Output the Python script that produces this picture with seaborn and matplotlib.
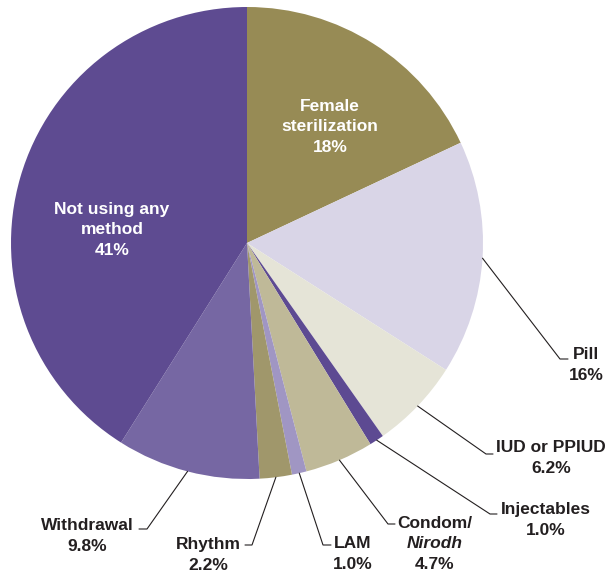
import numpy as np
import matplotlib.pyplot as plt
import seaborn as sns

# contraceptive method mix, clockwise from 12 o'clock
methods = ["Female sterilization", "Pill", "IUD or PPIUD", "Injectables",
           "Condom/Nirodh", "LAM", "Rhythm", "Withdrawal", "Not using any method"]
shares = [18, 16, 6.2, 1.0, 4.7, 1.0, 2.2, 9.8, 41]
colors = ["#978b55", "#d9d5e7", "#e5e4d7", "#5d4a92", "#bfb998",
          "#a096c3", "#a0976b", "#7667a3", "#5e4b91"]
label_lines = [["Female", "sterilization"], ["Pill"], ["IUD or PPIUD"], ["Injectables"],
               ["Condom/", "Nirodh"], ["LAM"], ["Rhythm"], ["Withdrawal"],
               ["Not using any", "method"]]
italic_lines = {"Nirodh"}

sns.set_theme(style="white")
plt.rcParams['font.family'] = ['Liberation Sans', 'DejaVu Sans']

W, H = 607, 576
cx, cy, R = 247, 243, 236   # pie centre / radius in pixels
FS = 12.5
LINE = 20.5                 # line spacing, px
INK = "#231f20"

fig = plt.figure(figsize=(W / 100, H / 100), dpi=100)
ax = fig.add_axes([0, 0, 1, 1])
wedges, _ = ax.pie(shares, colors=colors, startangle=90, counterclock=False,
                   radius=1, wedgeprops=dict(linewidth=0))
ax.set_xlim(-cx / R, (W - cx) / R)
ax.set_ylim(-(H - cy) / R, cy / R)
ax.axis('off')


def px(x, y):
    return (x - cx) / R, (cy - y) / R


def pct(v):
    return f"{v:.0f}%" if v >= 10 else f"{v:.1f}%"


def block(lines, x, y, color):
    n = len(lines)
    for i, s in enumerate(lines):
        tx, ty = px(x, y + (i - (n - 1) / 2) * LINE)
        ax.text(tx, ty, s, ha='center', va='center', fontsize=FS, color=color,
                fontweight='bold', fontstyle='italic' if s in italic_lines else 'normal')


# label placement (pixels): inside labels -> centre; outside -> kink, end, text centre
inside = {0: (330, 127), 8: (112, 230)}
outside = {
    1: ((560, 359), (568, 359), (586, 365)),
    2: ((486, 454), (493, 454), (551, 458)),
    3: ((490, 514), (497, 514), (546, 520)),
    4: ((388, 524), (395, 524), (435, 544)),
    5: ((323, 545), (331, 545), (353, 554)),
    6: ((252, 545), (245, 545), (208, 555)),
    7: ((147, 529), (139, 529), (87, 536)),
}

for i, w in enumerate(wedges):
    lines = label_lines[i] + [pct(shares[i])]
    if i in inside:
        block(lines, *inside[i], "white")
        continue
    kink, end, tc = outside[i]
    ang = np.deg2rad((w.theta1 + w.theta2) / 2)
    x0, y0 = np.cos(ang), np.sin(ang)
    k = px(*kink)
    e = px(*end)
    ax.plot([x0, k[0], e[0]], [y0, k[1], e[1]], color=INK, lw=0.8,
            solid_joinstyle='miter')
    block(lines, *tc, INK)

fig.savefig("out.png", dpi=100)
